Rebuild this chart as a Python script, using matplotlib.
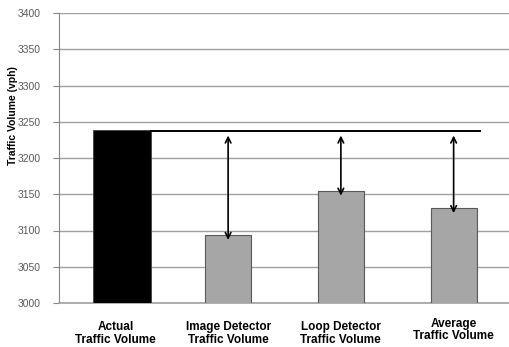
import numpy as np
import matplotlib.pyplot as plt

categories = ["Actual\nTraffic Volume", "Image Detector\nTraffic Volume",
              "Loop Detector\nTraffic Volume", "Average\nTraffic Volume"]
volumes = [3238, 3094, 3155, 3131]
actual_line = 3237
yticks = [3000, 3050, 3100, 3150, 3200, 3250, 3300, 3350, 3400]

plt.rcParams['font.family'] = ['Liberation Sans Narrow', 'Liberation Sans', 'DejaVu Sans']

fig = plt.figure(figsize=(5.1, 3.47), dpi=100)
ax = fig.add_axes([59 / 510, 44 / 347, 451 / 510, 290 / 347])

x = np.arange(len(categories))
# the actual volume bar is a bit wider and sits right of its slot
ax.bar(x[0] + 0.06, volumes[0], width=0.51, bottom=0, color="black",
       edgecolor="#404040", linewidth=0.6, zorder=3)
ax.bar(x[1:], volumes[1:], width=0.41, color="#a6a6a6",
       edgecolor="#595959", linewidth=0.8, zorder=3)

# reference line at the actual volume, with the gaps marked by arrows
x0 = x[0] + 0.06 + 0.255
x1 = x[-1] + 0.205 + 0.03
ax.plot([x0, x1], [actual_line, actual_line], color="black", lw=1.4, zorder=4)
for xi, v in zip(x[1:], volumes[1:]):
    ax.annotate("", xy=(xi, v - 7), xytext=(xi, actual_line - 6),
                arrowprops=dict(arrowstyle="<->", color="black", lw=1.2,
                                shrinkA=0, shrinkB=0, mutation_scale=10),
                zorder=5)

ax.set_xlim(-0.5, 3.5)
ax.set_ylim(3000, 3400)
ax.set_yticks(yticks)
ax.tick_params(axis="y", labelsize=7.5, labelcolor="#595959", color="#868686",
               length=4, width=0.8, pad=9)
ax.set_xticks(x)
ax.set_xticklabels(categories, fontsize=8.5, fontweight="bold", color="black",
                   linespacing=1.05)
ax.tick_params(axis="x", length=0, pad=13)
for lbl in ax.get_xticklabels()[-1:]:
    lbl.set_y(0.012)

ax.grid(axis="y", color="#a0a0a0", lw=1.0, zorder=0)
ax.set_axisbelow(True)
for s in ["top", "right"]:
    ax.spines[s].set_visible(False)
ax.spines["left"].set_color("#868686")
ax.spines["bottom"].set_color("#a0a0a0")
ax.spines["left"].set_linewidth(0.8)
ax.spines["bottom"].set_linewidth(1.2)

ax.set_ylabel("Traffic Volume (vph)", fontsize=7.5, fontweight="bold")
ax.yaxis.set_label_coords(-0.09, 0.648)

fig.savefig("out.png", dpi=100)
